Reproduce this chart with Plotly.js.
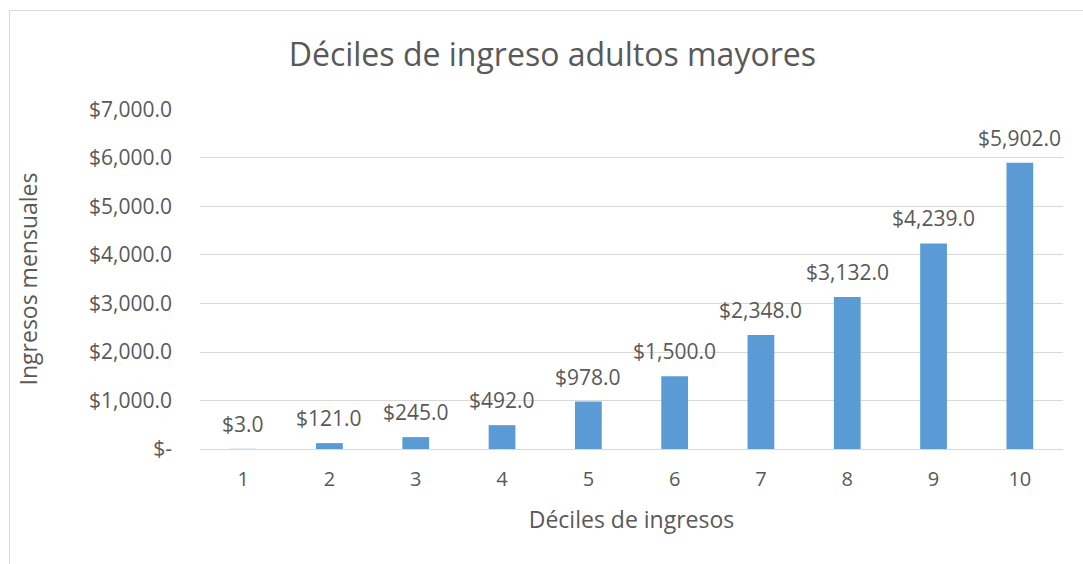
<!DOCTYPE html>
<html>
<head>
<meta charset="utf-8">
<script src="https://cdn.plot.ly/plotly-3.0.1.min.js"></script>
<style>
  html, body { margin: 0; padding: 0; background: #fff; }
  #chart { width: 1083px; height: 564px; }
  #frame { position: absolute; left: 9px; top: 10px; width: 1200px; height: 700px; border: 1px solid #D9D9D9; pointer-events: none; }
</style>
</head>
<body>
<div id="chart"></div>
<div id="frame"></div>
<script>
const categories = ["1", "2", "3", "4", "5", "6", "7", "8", "9", "10"];
const ingresos = [3.0, 121.0, 245.0, 492.0, 978.0, 1500.0, 2348.0, 3132.0, 4239.0, 5902.0];
const tickValues = [0, 1000, 2000, 3000, 4000, 5000, 6000, 7000];
const tickLabels = ["$-", "$1,000.0", "$2,000.0", "$3,000.0", "$4,000.0", "$5,000.0", "$6,000.0", "$7,000.0"];

const fmt = v => "$" + v.toLocaleString("en-US", {minimumFractionDigits: 1, maximumFractionDigits: 1});
const labels = ingresos.map(fmt);

const font = "Open Sans, Noto Sans, sans-serif";
const grey = "#595959";

// on a category axis, annotation x is the category's index
const labelAnnotations = categories.map((c, i) => ({
  x: i, y: ingresos[i], xref: "x", yref: "y",
  text: labels[i], showarrow: false,
  xanchor: "center", yanchor: "middle", yshift: 25,
  font: {family: font, size: 21, color: grey}
}));

Plotly.newPlot("chart", [{
  type: "bar",
  x: categories,
  y: ingresos,
  marker: {color: "#5B9BD5"},
  hoverinfo: "x+y"
}], {
  width: 1083, height: 564,
  margin: {l: 200, r: 20, t: 109, b: 115},
  paper_bgcolor: "#fff", plot_bgcolor: "#fff",
  bargap: 0.69,
  showlegend: false,
  annotations: labelAnnotations,
  title: {text: "Déciles de ingreso adultos mayores", x: 0.51, xref: "container", y: 0.902, yref: "container", yanchor: "middle",
          font: {family: font, size: 32, color: grey}},
  xaxis: {
    type: "category",
    range: [-0.5, categories.length - 0.5],
    tickfont: {family: font, size: 20, color: grey},
    showgrid: false, showline: false, ticks: "",
    ticklabelstandoff: 16,
    automargin: false,
    title: {text: "Déciles de ingresos", font: {family: font, size: 23, color: grey}, standoff: 20}
  },
  yaxis: {
    range: [0, 7010],
    tickvals: tickValues, ticktext: tickLabels,
    tickfont: {family: font, size: 21, color: grey},
    gridcolor: "#D9D9D9", gridwidth: 1,
    zeroline: true, zerolinecolor: "#D9D9D9", zerolinewidth: 1,
    showline: false, ticks: "", ticklen: 0,
    ticklabelstandoff: 27,
    automargin: false,
    title: {text: "Ingresos mensuales", font: {family: font, size: 23, color: grey}, standoff: 44}
  },
  font: {family: font, color: grey}
}, {displayModeBar: false, staticPlot: true});
</script>
</body>
</html>
